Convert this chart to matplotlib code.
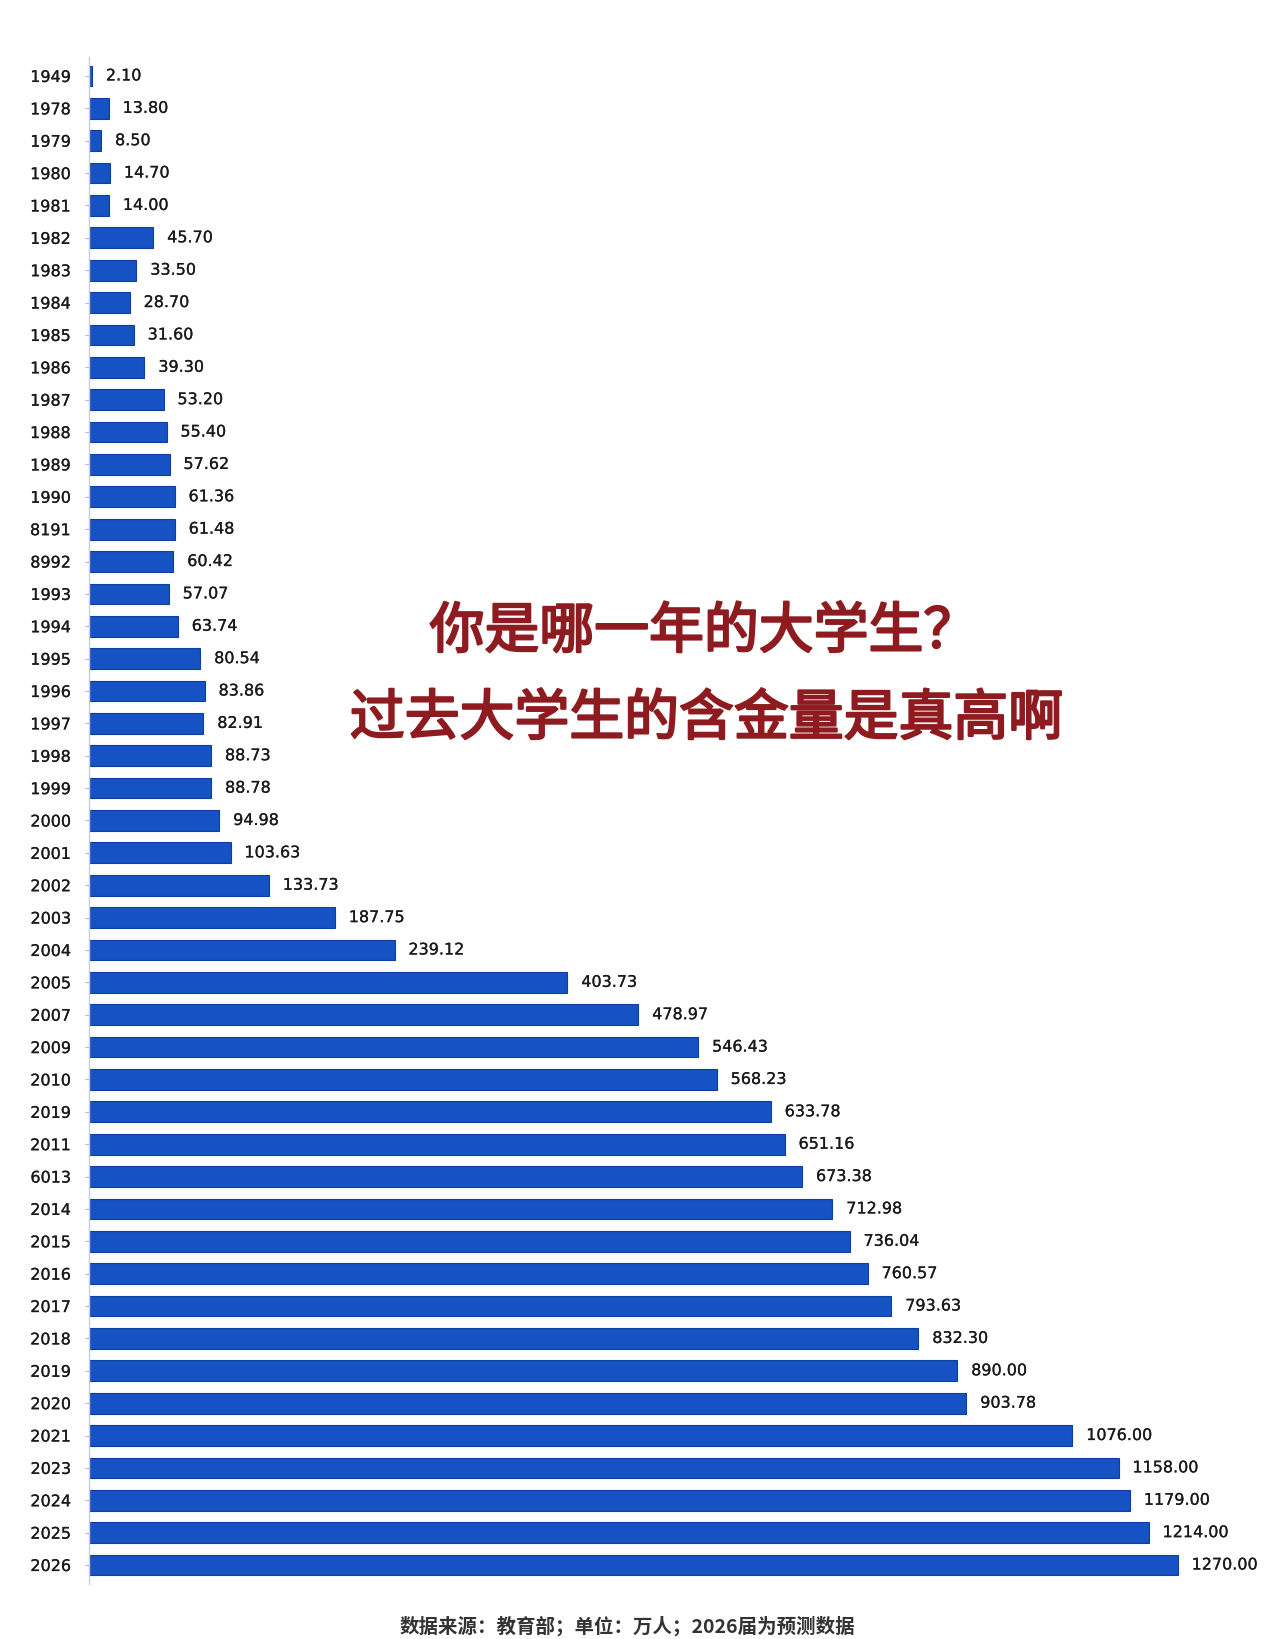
import matplotlib
matplotlib.use("Agg")
from matplotlib import pyplot as plt
from matplotlib import patheffects as pe

plt.rcParams['font.family'] = 'DejaVu Sans'

# 年份标签（按原图照录）
years = ["1949", "1978", "1979", "1980", "1981", "1982", "1983", "1984", "1985",
         "1986", "1987", "1988", "1989", "1990", "8191", "8992", "1993", "1994",
         "1995", "1996", "1997", "1998", "1999", "2000", "2001", "2002", "2003",
         "2004", "2005", "2007", "2009", "2010", "2019", "2011", "6013", "2014",
         "2015", "2016", "2017", "2018", "2019", "2020", "2021", "2023", "2024",
         "2025", "2026"]

# 毕业生人数（万人）
grads = [2.10, 13.80, 8.50, 14.70, 14.00, 45.70, 33.50, 28.70, 31.60, 39.30,
         53.20, 55.40, 57.62, 61.36, 61.48, 60.42, 57.07, 63.74, 80.54, 83.86,
         82.91, 88.73, 88.78, 94.98, 103.63, 133.73, 187.75, 239.12, 403.73,
         478.97, 546.43, 568.23, 633.78, 651.16, 673.38, 712.98, 736.04, 760.57,
         793.63, 832.30, 890.00, 903.78, 1076.00, 1158.00, 1179.00, 1214.00,
         1270.00]

title_1 = "你是哪一年的大学生？"
title_2 = "过去大学生的含金量是真高啊"
source = "数据来源：教育部；单位：万人；2026届为预测数据"

CJK = ['Noto Sans CJK SC', 'DejaVu Sans']
red = '#8e1b1f'

# the source picture squeezes the long bars, mimic it with a saturating scale
C = 1862.0


def fwd(v):
    return v / (1 + v / C)


def inv(x):
    return x / (1 - x / C)


fig = plt.figure(figsize=(12.8, 16.39), dpi=100)
ax = fig.add_axes([0.0695, 0.0333, 0.9148, 0.9322])

pos = list(range(len(years)))
bars = ax.barh(pos, grads, height=0.64, color='#1652c4', edgecolor='#0e3f9e',
               linewidth=0.8)
thick = [pe.withStroke(linewidth=0.15, foreground='#1a1a1a')]
lbls = ax.bar_label(bars, labels=["%.2f" % v for v in grads], padding=10,
                    fontsize=11.5, color='#1a1a1a', family='DejaVu Sans')
for t in lbls:
    t.set_path_effects(thick)

ax.set_xscale('function', functions=(fwd, inv))
ax.set_xlim(0, 1440)
ax.set_ylim(46.6, -0.6)
ax.set_yticks(pos)
ax.set_yticklabels(years, fontsize=11.5, color='#1a1a1a', family='DejaVu Sans')
for t in ax.get_yticklabels():
    t.set_path_effects(thick)
ax.tick_params(axis='y', length=3, width=0.8, color='#b0b8c8', pad=10)
ax.set_xticks([])
ax.xaxis.set_minor_locator(plt.NullLocator())

for s in ['top', 'right', 'bottom']:
    ax.spines[s].set_visible(False)
ax.spines['left'].set_color('#c5cde0')
ax.spines['left'].set_linewidth(1.0)

bold_red = [pe.withStroke(linewidth=1.6, foreground=red)]
fig.text(0.55, 0.6144, title_1, fontsize=39.5, color=red, ha='center',
         va='center', family=CJK, path_effects=bold_red)
fig.text(0.552, 0.5613, title_2, fontsize=39.5, color=red, ha='center',
         va='center', family=CJK, path_effects=bold_red)

fig.text(0.49, 0.0075, source, fontsize=14, color='#333333', fontweight='bold',
         ha='center', va='center', family=CJK)

fig.savefig("out.png", dpi=100, facecolor='white')
